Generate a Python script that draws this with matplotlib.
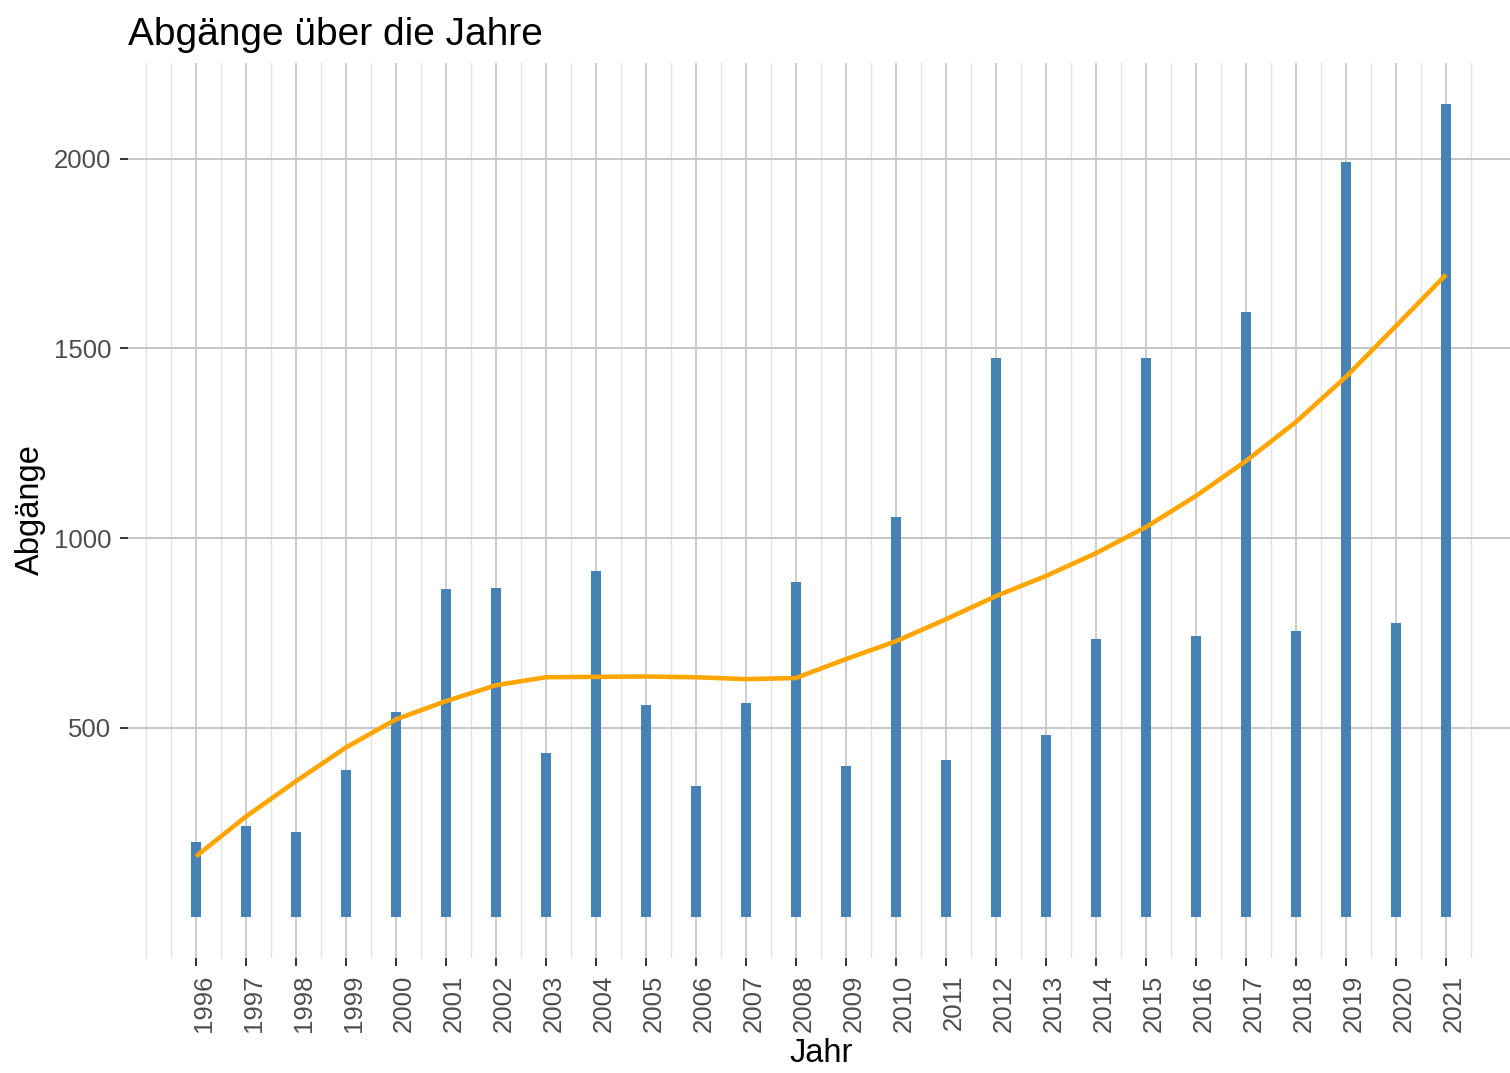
import numpy as np
import matplotlib
matplotlib.use('Agg')
import matplotlib.pyplot as plt
from matplotlib.transforms import ScaledTranslation

plt.rcParams['font.family'] = ['Liberation Sans', 'DejaVu Sans']

# data
years = list(range(1996, 2022))
abgaenge = [198, 240, 224, 388, 541, 865, 868, 433, 913, 559, 346, 565, 884,
            398, 1055, 414, 1475, 480, 733, 1475, 741, 1596, 754, 1990, 776, 2144]
# smoothed trend (loess-like curve) read at each year
trend = [161, 266, 359, 448, 522, 570, 612, 633, 634, 635, 633, 628, 631,
         681, 728, 786, 847, 900, 960, 1029, 1111, 1203, 1306, 1425, 1559, 1694]
y_ticks = [500, 1000, 1500, 2000]

W, H = 1510, 1073
fig = plt.figure(figsize=(W / 100, H / 100), dpi=100)
fig.patch.set_facecolor('white')

# panel, left 128px, top 63px, bottom 958px (right edge runs past the image)
ax = fig.add_axes([128 / W, (H - 958) / H, (1514 - 128) / W, (958 - 63) / H])
ax.set_facecolor('white')

# grid: major lines at each year, minor lines at half years
for x in [1995] + [y + 0.5 for y in range(1995, 2022)]:
    ax.axvline(x, color='#e3e3e3', lw=1.0, zorder=0)
for x in years:
    ax.axvline(x, color='#c6c6c6', lw=1.2, zorder=0)
for y in y_ticks:
    ax.axhline(y, color='#c6c6c6', lw=1.4, zorder=0)

ax.bar(years, abgaenge, width=0.21, color='#4682B4', zorder=2)
ax.plot(years, trend, color='#FFA500', lw=3.3, zorder=3,
        solid_capstyle='butt', solid_joinstyle='round')

ax.set_xlim(1994.64, 2022.36)
ax.set_ylim(-107, 2252)

ax.set_xticks(years)
ax.set_xticklabels([str(y) for y in years], rotation=90)
ax.set_yticks(y_ticks)
ax.set_yticklabels([str(v) for v in y_ticks])

for s in ax.spines.values():
    s.set_visible(False)

ax.tick_params(axis='both', colors='#333333', length=6, width=1.4,
               labelsize=18.5, labelcolor='#4D4D4D')
ax.tick_params(axis='x', pad=6)
ax.tick_params(axis='y', pad=6)

# x labels sit a little right of their ticks in the reference
offset = ScaledTranslation(8 / 100, 0, fig.dpi_scale_trans)
for lab in ax.get_xticklabels():
    lab.set_transform(lab.get_transform() + offset)

fig.text(128 / W, 1 - 45 / H, 'Abgänge über die Jahre', fontsize=28,
         ha='left', va='baseline', color='#000000')
fig.text(821 / W, 1 - 1054 / H, 'Jahr', fontsize=23.5,
         ha='center', va='center', color='#000000')
fig.text(30 / W, 1 - 510 / H, 'Abgänge', fontsize=23.5, rotation=90,
         ha='center', va='center', color='#000000')

fig.savefig('out.png', dpi=100, facecolor='white')
